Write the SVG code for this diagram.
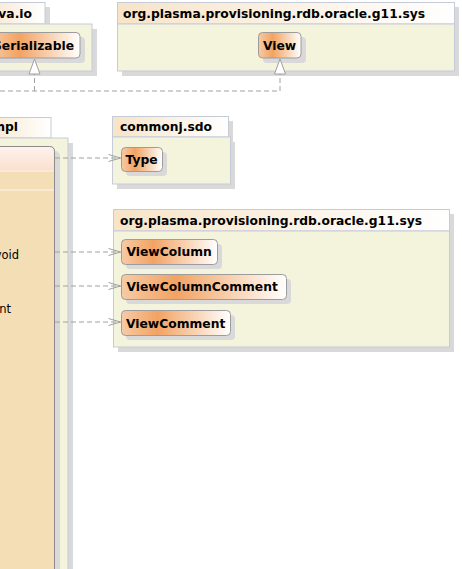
<svg xmlns="http://www.w3.org/2000/svg" width="462" height="569" viewBox="0 0 462 569">
<defs>
<linearGradient id="tabG" x1="0" y1="0" x2="1" y2="0">
<stop offset="0" stop-color="#F7E4C8"/>
<stop offset="1" stop-color="#FFFFFF"/>
</linearGradient>
<linearGradient id="nodeG" x1="0" y1="0" x2="1" y2="0">
<stop offset="0" stop-color="#F6CBA6"/>
<stop offset="0.33" stop-color="#F2A363"/>
<stop offset="1" stop-color="#FFFFFF"/>
</linearGradient>
<linearGradient id="hdrG" x1="0" y1="0" x2="0" y2="1">
<stop offset="0" stop-color="#FDF3EE"/>
<stop offset="1" stop-color="#FADFCF"/>
</linearGradient>
<marker id="open" viewBox="0 0 14 10" refX="13" refY="5" markerWidth="14" markerHeight="10" markerUnits="userSpaceOnUse" orient="auto">
<path d="M1,1.5 L13,5 L1,8.5" fill="none" stroke="#A0A0A0" stroke-width="1"/>
</marker>
</defs>
<style>
.shadow{fill:#D9D9D9}
.pkg{fill:#F4F3DC;stroke:#C6CBDA;stroke-width:1}
.tab{fill:url(#tabG);stroke:#C6CBDA;stroke-width:1}
.node{fill:url(#nodeG);stroke:#9C9C9C;stroke-width:1}
.lbl{font-family:"DejaVu Sans",sans-serif;font-weight:bold;font-size:12.3px;fill:#000}
.mem{font-family:"DejaVu Sans",sans-serif;font-size:11.5px;fill:#000}
.edge{fill:none;stroke:#A0A0A0;stroke-width:1;stroke-dasharray:5,3}
.tri{fill:#FFFFFF;stroke:#A0A0A0;stroke-width:1}
</style>
<rect width="462" height="569" fill="#FFFFFF"/>

<!-- package java.io -->
<g id="pkg-java-io">
<rect class="shadow" x="-15" y="7" width="65" height="22"/>
<rect class="shadow" x="-15" y="29" width="112" height="47"/>
<rect class="tab" x="-20" y="2.5" width="65" height="21.5"/>
<rect class="pkg" x="-20" y="24" width="112" height="47"/>
<text class="lbl" x="32" y="18" text-anchor="end">java.io</text>
</g>
<g id="node-Serializable">
<rect class="shadow" x="-5" y="37" width="90" height="26" rx="4"/>
<rect class="node" x="-10" y="32.5" width="90" height="25.5" rx="4"/>
<text class="lbl" x="74" y="50" text-anchor="end">Serializable</text>
</g>

<!-- package org.plasma...sys (top) -->
<g id="pkg-sys-top">
<rect class="shadow" x="122" y="7" width="337" height="69"/>
<rect class="tab" x="117.5" y="2.5" width="337" height="21.5"/>
<rect class="pkg" x="117.5" y="24" width="337" height="47"/>
<text class="lbl" x="123" y="18">org.plasma.provisioning.rdb.oracle.g11.sys</text>
</g>
<g id="node-View">
<rect class="shadow" x="263" y="37" width="43" height="26" rx="4"/>
<rect class="node" x="258.5" y="32.5" width="42.5" height="25.5" rx="4"/>
<text class="lbl" x="263" y="50">View</text>
</g>

<!-- package ...Impl -->
<g id="pkg-impl">
<rect class="shadow" x="-15" y="122" width="66" height="22"/>
<rect class="shadow" x="-15" y="143" width="88" height="440"/>
<rect class="tab" x="-20" y="117.5" width="71" height="20.5"/>
<rect class="pkg" x="-20" y="138" width="88" height="440"/>
<text class="lbl" x="18" y="131" text-anchor="end">Impl</text>
</g>
<g id="node-impl-class">
<rect class="shadow" x="-15" y="151" width="75" height="440" rx="5"/>
<rect x="-20" y="146.5" width="74.5" height="440" rx="5" fill="#F3DEB5" stroke="#8C8C8C" stroke-width="1"/>
<path d="M-20,171 V151.5 Q-20,146.5 -15,146.5 H49.5 Q54.5,146.5 54.5,151.5 V171 Z" fill="url(#hdrG)"/>
<path d="M-20,151.5 Q-20,146.5 -15,146.5 H49.5 Q54.5,146.5 54.5,151.5 V569" fill="none" stroke="#8C8C8C" stroke-width="1"/>
<line x1="-20" y1="171" x2="54" y2="171" stroke="#F8ECDD" stroke-width="1.5"/>
<line x1="-20" y1="190" x2="54" y2="190" stroke="#F8ECDD" stroke-width="1.5"/>
<text class="mem" x="19" y="259" text-anchor="end">void</text>
<text class="mem" x="11" y="313" text-anchor="end">nt</text>
</g>

<!-- package commonj.sdo -->
<g id="pkg-commonj-sdo">
<rect class="shadow" x="117" y="121" width="116" height="21"/>
<rect class="shadow" x="117" y="142" width="118" height="47"/>
<rect class="tab" x="112.5" y="116.5" width="116" height="20.5"/>
<rect class="pkg" x="112.5" y="137" width="118" height="47"/>
<text class="lbl" x="120" y="131">commonj.sdo</text>
</g>
<g id="node-Type">
<rect class="shadow" x="126" y="152" width="41" height="24" rx="4"/>
<rect class="node" x="121.5" y="147.5" width="41" height="24" rx="4"/>
<text class="lbl" x="125.5" y="164">Type</text>
</g>

<!-- package org.plasma...sys (bottom) -->
<g id="pkg-sys-bottom">
<rect class="shadow" x="118" y="214" width="336" height="138"/>
<rect class="tab" x="113.5" y="209.5" width="336" height="21.5"/>
<rect class="pkg" x="113.5" y="231" width="336" height="116"/>
<text class="lbl" x="120" y="225">org.plasma.provisioning.rdb.oracle.g11.sys</text>
</g>
<g id="node-ViewColumn">
<rect class="shadow" x="126" y="244" width="96" height="25" rx="4"/>
<rect class="node" x="121.5" y="239.5" width="96" height="25" rx="4"/>
<text class="lbl" x="126.5" y="256">ViewColumn</text>
</g>
<g id="node-ViewColumnComment">
<rect class="shadow" x="126" y="279" width="165" height="25" rx="4"/>
<rect class="node" x="121.5" y="274.5" width="165" height="25" rx="4"/>
<text class="lbl" x="126.5" y="291">ViewColumnComment</text>
</g>
<g id="node-ViewComment">
<rect class="shadow" x="126" y="315" width="109" height="25" rx="4"/>
<rect class="node" x="121.5" y="310.5" width="109" height="25" rx="4"/>
<text class="lbl" x="126" y="328">ViewComment</text>
</g>

<!-- connectors -->
<g id="connectors">
<path class="edge" d="M0,91 H280 V74"/>
<path class="edge" d="M34.5,91 V74"/>
<polygon class="tri" points="34.5,59 29,74 40,74"/>
<polygon class="tri" points="280,59 274.5,74 285.5,74"/>
<path class="edge" d="M55,158 H120.5" marker-end="url(#open)"/>
<path class="edge" d="M55,252 H120.5" marker-end="url(#open)"/>
<path class="edge" d="M55,286 H120.5" marker-end="url(#open)"/>
<path class="edge" d="M55,322 H120.5" marker-end="url(#open)"/>
</g>
</svg>
